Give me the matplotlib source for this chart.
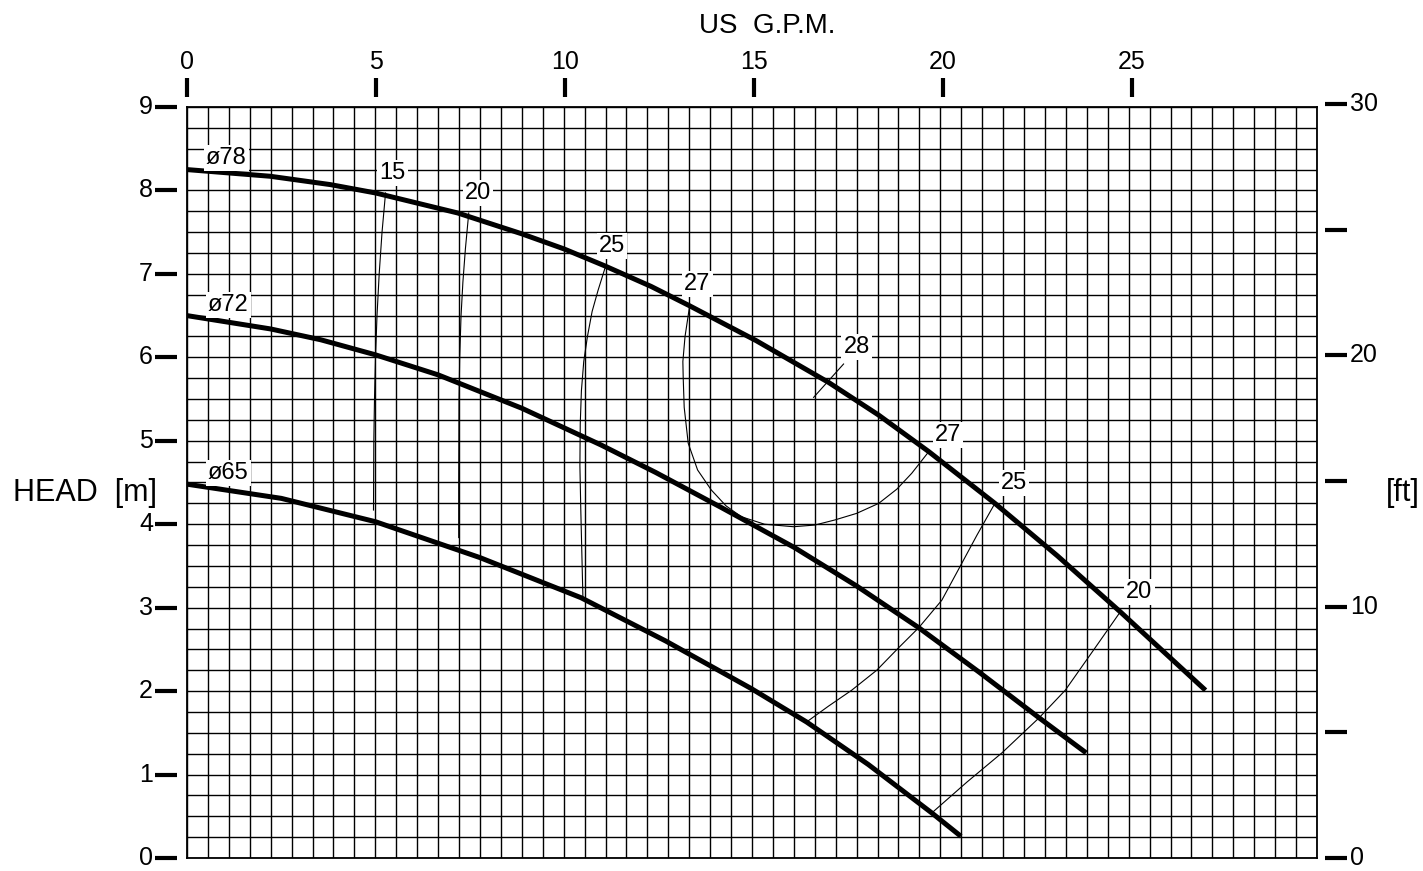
import matplotlib
matplotlib.use('Agg')
import matplotlib.pyplot as plt
import numpy as np

plt.rcParams['font.family'] = ['Liberation Sans', 'DejaVu Sans']

# ---------------- data (flow in m3/h on a 0.125 grid, head in m) ----------------
q78 = [0.0, 0.497, 0.856, 1.126, 1.617, 2.0, 2.251, 2.491, 2.772, 3.0, 3.4, 3.832,
       4.13, 4.431, 4.826, 5.2, 5.575, 6.084]
h78 = [8.25, 8.17, 8.07, 7.97, 7.73, 7.48, 7.30, 7.10, 6.85, 6.62, 6.20, 5.70,
       5.31, 4.87, 4.25, 3.62, 2.95, 2.01]

q72 = [0.0, 0.5, 0.8, 1.126, 1.5, 2.0, 2.473, 2.8, 3.192, 3.629, 4.0, 4.371, 4.73, 5.09, 5.371]
h72 = [6.50, 6.34, 6.21, 6.03, 5.79, 5.39, 4.95, 4.62, 4.20, 3.72, 3.26, 2.76, 2.23, 1.68, 1.26]

q65 = [0.0, 0.563, 1.126, 1.75, 2.353, 2.86, 3.371, 3.701, 4.07, 4.449, 4.623]
h65 = [4.48, 4.31, 4.03, 3.60, 3.12, 2.60, 2.03, 1.63, 1.12, 0.54, 0.26]

# efficiency iso-lines
e15_q = [1.186, 1.165, 1.148, 1.135, 1.126, 1.120, 1.116, 1.114]
e15_h = [7.97, 7.50, 7.00, 6.50, 6.00, 5.50, 5.00, 4.17]
e20_q = [1.683, 1.663, 1.648, 1.637, 1.629, 1.625, 1.623, 1.623]
e20_h = [7.73, 7.30, 6.90, 6.50, 6.00, 5.50, 4.50, 3.84]
e25_q = [2.497, 2.455, 2.420, 2.392, 2.370, 2.356, 2.349, 2.347, 2.352, 2.358, 2.365]
e25_h = [7.07, 6.80, 6.55, 6.25, 5.95, 5.60, 5.20, 4.70, 4.20, 3.70, 3.12]
e27_q = [3.002, 2.975, 2.962, 2.964, 2.970, 2.994, 3.05, 3.132, 3.22, 3.311, 3.45, 3.623,
         3.75, 3.868, 4.0, 4.132, 4.24, 4.329, 4.431]
e27_h = [6.61, 6.25, 5.95, 5.76, 5.40, 4.97, 4.65, 4.41, 4.22, 4.09, 4.00, 3.97,
         3.99, 4.05, 4.13, 4.25, 4.42, 4.61, 4.87]
e28_q = [3.743, 3.922]
e28_h = [5.52, 5.92]
e25r_q = [4.826, 4.719, 4.617, 4.509, 4.371, 4.251, 4.120, 3.970, 3.832, 3.701]
e25r_h = [4.25, 3.87, 3.49, 3.09, 2.76, 2.52, 2.25, 2.01, 1.82, 1.63]
e20r_q = [5.575, 5.425, 5.246, 5.090, 4.868, 4.659, 4.449]
e20r_h = [2.95, 2.52, 2.01, 1.68, 1.26, 0.91, 0.54]

curve_labels = ['ø78', 'ø72', 'ø65']
curve_label_q = [0.234, 0.246, 0.246]
curve_label_h = [8.39, 6.63, 4.61]

eff_labels = ['15', '20', '25', '27', '28', '27', '25', '20']
eff_label_q = [1.228, 1.737, 2.539, 3.048, 4.0, 4.545, 4.940, 5.689]
eff_label_h = [8.21, 7.97, 7.33, 6.88, 6.12, 5.07, 4.49, 3.19]

head_ticks = list(range(0, 10))
gpm_ticks = [0, 5, 10, 15, 20, 25]
ft_ticks = [0, 5, 10, 15, 20, 25, 30]
ft_labels = ['0', '', '10', '', '20', '', '30']

# ---------------- figure ----------------
W, H, DPI = 1423, 871, 100
fig = plt.figure(figsize=(W / DPI, H / DPI), dpi=DPI)
L, R, B, T = 187, 1317, 858, 107
ax = fig.add_axes([L / W, 1 - B / H, (R - L) / W, (B - T) / H])
axw, axh = R - L, B - T

ax.set_xlim(0, 6.75)
ax.set_ylim(0, 9)
ax.set_xticks(np.arange(0, 6.75 + 1e-6, 0.125))
ax.set_yticks(np.arange(0, 9 + 1e-6, 0.25))
ax.grid(True, color='black', lw=1.0)
ax.tick_params(length=0, labelbottom=False, labelleft=False)
for s in ax.spines.values():
    s.set_color('black')
    s.set_linewidth(1.3)

# pump curves
for q, h in [(q78, h78), (q72, h72), (q65, h65)]:
    ax.plot(q, h, color='black', lw=3.6, solid_capstyle='butt',
            solid_joinstyle='round', zorder=5)

# efficiency curves
for q, h in [(e15_q, e15_h), (e20_q, e20_h), (e25_q, e25_h), (e27_q, e27_h),
             (e28_q, e28_h), (e25r_q, e25r_h), (e20r_q, e20r_h)]:
    ax.plot(q, h, color='black', lw=0.8, zorder=4)

box = dict(facecolor='white', edgecolor='none', pad=1.5)
for t, q, h in zip(curve_labels, curve_label_q, curve_label_h):
    ax.text(q, h, t, ha='center', va='center', fontsize=17, bbox=box, zorder=6)
for t, q, h in zip(eff_labels, eff_label_q, eff_label_h):
    ax.text(q, h, t, ha='center', va='center', fontsize=17, bbox=box, zorder=6)

# left ticks (metres)
ytr = ax.get_yaxis_transform()
for m in head_ticks:
    ax.plot([-32 / axw, -10 / axw], [m, m], transform=ytr, clip_on=False,
            color='black', lw=3, solid_capstyle='butt')
    ax.text(-34 / axw, m, str(m), transform=ytr, ha='right', va='center', fontsize=18)

# top axis (US GPM)
axt = ax.twiny()
axt.set_xlim(0, 29.9)
axt.axis('off')
xtr = axt.get_xaxis_transform()
for g in gpm_ticks:
    axt.plot([g, g], [(B - 78) / axh, (B - 97) / axh], transform=xtr, clip_on=False,
             color='black', lw=3, solid_capstyle='butt')
    axt.text(g, (B - 62) / axh, str(g), transform=xtr, ha='center', va='center', fontsize=18)
fig.text(767 / W, 1 - 26 / H, 'US  G.P.M.', ha='center', va='center', fontsize=20)

# right axis (ft)
axr = ax.twinx()
axr.set_ylim(0, 29.88)
axr.axis('off')
rtr = axr.get_yaxis_transform()
for f, lab in zip(ft_ticks, ft_labels):
    axr.plot([(1325 - L) / axw, (1347 - L) / axw], [f, f], transform=rtr, clip_on=False,
             color='black', lw=3, solid_capstyle='butt')
    if lab:
        axr.text((1350 - L) / axw, f, lab, transform=rtr, ha='left', va='center', fontsize=18)

fig.text(85 / W, 1 - 493 / H, 'HEAD  [m]', ha='center', va='center', fontsize=22)
fig.text(1420 / W, 1 - 493 / H, '[ft]', ha='right', va='center', fontsize=22)

fig.savefig('out.png', dpi=DPI)
